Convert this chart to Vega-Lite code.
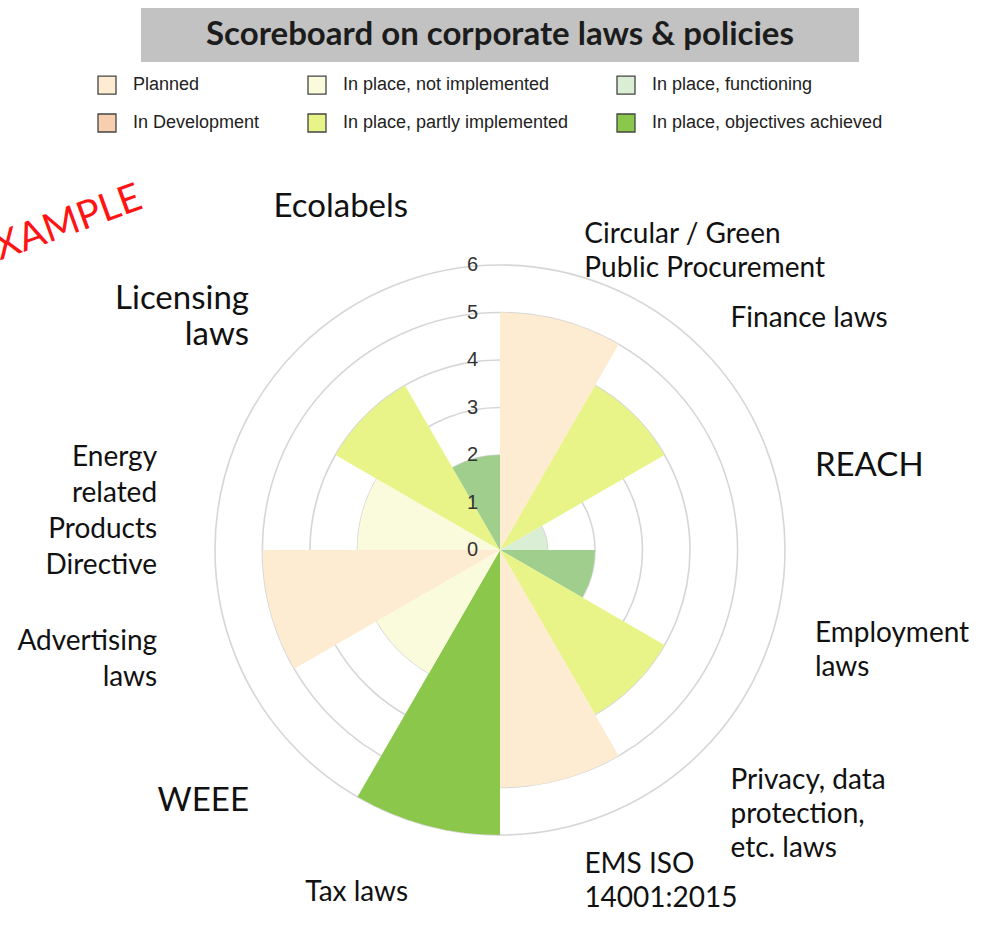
{
  "$schema": "https://vega.github.io/schema/vega-lite/v6.json",
  "padding": {"left": 0, "top": 8, "right": 0, "bottom": 0},
  "background": "#ffffff",
  "bounds": "flush",
  "center": true,
  "spacing": 0,
  "config": {"view": {"stroke": null}, "font": "Lato"},
  "resolve": {"scale": {"color": "independent"}, "legend": {"color": "independent"}},
  "vconcat": [
    {
      "width": 718,
      "height": 54,
      "view": {"fill": "#c2c2c2", "stroke": null},
      "data": {"values": [{"title": "Scoreboard on corporate laws & policies"}]},
      "mark": {"type": "text", "font": "Lato", "fontWeight": "bold", "fontSize": 33, "color": "#1c1c1c"},
      "encoding": {"text": {"field": "title", "type": "nominal"}}
    },
    {
      "width": 1000,
      "height": 976,
      "data": {"values": [
        {"i": 1, "label": "Circular / Green\nPublic Procurement", "value": 5, "status": "Planned"},
        {"i": 2, "label": "Finance laws", "value": 4, "status": "In place, partly implemented"},
        {"i": 3, "label": "REACH", "value": 1, "status": "In place, functioning"},
        {"i": 4, "label": "Employment\nlaws", "value": 2, "status": "In place, functioning well"},
        {"i": 5, "label": "Privacy, data\nprotection,\netc. laws", "value": 4, "status": "In place, partly implemented"},
        {"i": 6, "label": "EMS ISO\n14001:2015", "value": 5, "status": "Planned"},
        {"i": 7, "label": "Tax laws", "value": 6, "status": "In place, objectives achieved"},
        {"i": 8, "label": "WEEE", "value": 3, "status": "In place, not implemented"},
        {"i": 9, "label": "Advertising\nlaws", "value": 5, "status": "Planned"},
        {"i": 10, "label": "Energy\nrelated\nProducts\nDirective", "value": 3, "status": "In place, not implemented"},
        {"i": 11, "label": "Licensing\nlaws", "value": 4, "status": "In place, partly implemented"},
        {"i": 12, "label": "Ecolabels", "value": 2, "status": "In place, functioning well"}
      ]},
      "resolve": {"scale": {"theta": "independent"}},
      "layer": [
        {
          "data": {"values": [{"g": 1}, {"g": 2}, {"g": 3}, {"g": 4}, {"g": 5}, {"g": 6}]},
          "mark": {"type": "arc", "theta": 0, "theta2": 6.2832, "filled": false, "stroke": "#d6d6d6", "strokeWidth": 1.6},
          "encoding": {
            "radius": {"field": "g", "type": "quantitative", "stack": null, "scale": {"type": "linear", "domain": [0, 6], "range": [0, 285], "zero": true}}
          }
        },
        {
          "transform": [
            {"joinaggregate": [{"op": "count", "as": "n"}], "groupby": ["i"]},
            {"stack": "n", "groupby": [], "sort": [{"field": "i", "order": "ascending"}], "as": ["k0", "k1"]}
          ],
          "mark": {"type": "arc"},
          "encoding": {
            "theta": {"field": "k0", "type": "quantitative", "stack": null, "scale": {"domain": [0, 12], "range": [0, 6.28318]}},
            "theta2": {"field": "k1"},
            "radius": {"field": "value", "type": "quantitative", "stack": null, "scale": {"type": "linear", "domain": [0, 6], "range": [0, 285], "zero": true}},
            "color": {
              "field": "status",
              "type": "nominal",
              "scale": {
                "domain": ["Planned", "In Development", "In place, not implemented", "In place, partly implemented", "In place, functioning", "In place, functioning well", "In place, objectives achieved"],
                "range": ["#fdebd2", "#f8cfae", "#fafbdc", "#e8f487", "#d9eed4", "#a0ce8c", "#8bc74b"]
              },
              "legend": {
                "orient": "none",
                "legendX": 97,
                "legendY": 13,
                "columns": 3,
                "title": null,
                "values": ["Planned", "In Development", "In place, not implemented", "In place, partly implemented", "In place, functioning", "In place, objectives achieved"],
                "symbolType": "square",
                "symbolSize": 324,
                "symbolStrokeColor": "#444444",
                "symbolStrokeWidth": 1.3,
                "symbolOpacity": 1,
                "labelFont": "Liberation Sans",
                "labelFontSize": 18,
                "labelColor": "#222222",
                "labelOffset": 16,
                "labelLimit": 400,
                "columnPadding": 45,
                "rowPadding": 14,
                "padding": 0
              }
            }
          }
        },
        {
          "data": {"values": [{"g": 0}, {"g": 1}, {"g": 2}, {"g": 3}, {"g": 4}, {"g": 5}, {"g": 6}]},
          "mark": {"type": "text", "align": "right", "baseline": "middle", "dx": -22, "font": "Liberation Sans", "fontSize": 20, "color": "#333333"},
          "encoding": {
            "theta": {"value": 0},
            "radius": {"field": "g", "type": "quantitative", "stack": null, "scale": {"type": "linear", "domain": [0, 6], "range": [0, 285], "zero": true}},
            "text": {"field": "g", "type": "quantitative"}
          }
        },
        {
          "transform": [{"filter": "datum.i <= 6"}],
          "mark": {"type": "text", "radius": 326, "align": "left", "baseline": "middle", "lineBreak": "\n", "lineHeight": 34, "font": "Lato", "color": "#111111"},
          "encoding": {
            "theta": {"aggregate": "count", "type": "quantitative", "stack": true, "scale": {"domain": [0, 6], "range": [0, 3.14159]}},
            "order": {"field": "i", "type": "quantitative", "sort": "ascending"},
            "text": {"field": "label", "type": "nominal"},
            "size": {
              "condition": {"test": "datum.label == 'REACH'", "value": 33},
              "value": 28
            }
          }
        },
        {
          "transform": [{"filter": "datum.i >= 7"}],
          "mark": {"type": "text", "radius": 355, "align": "right", "baseline": "middle", "lineBreak": "\n", "lineHeight": 36, "font": "Lato", "color": "#111111"},
          "encoding": {
            "theta": {"aggregate": "count", "type": "quantitative", "stack": true, "scale": {"domain": [0, 6], "range": [3.14159, 6.28318]}},
            "order": {"field": "i", "type": "quantitative", "sort": "ascending"},
            "text": {"field": "label", "type": "nominal"},
            "size": {
              "condition": {"test": "datum.label == 'WEEE' || datum.label == 'Ecolabels' || indexof(datum.label, 'Licensing') == 0", "value": 33},
              "value": 28
            }
          }
        },
        {
          "data": {"values": [{"word": "EXAMPLE"}]},
          "mark": {"type": "text", "clip": true, "angle": -20, "radius": 548, "theta": -0.94, "color": "#ff1414", "font": "Lato", "fontSize": 39, "align": "center", "baseline": "middle"},
          "encoding": {"text": {"field": "word", "type": "nominal"}}
        }
      ]
    }
  ]
}
